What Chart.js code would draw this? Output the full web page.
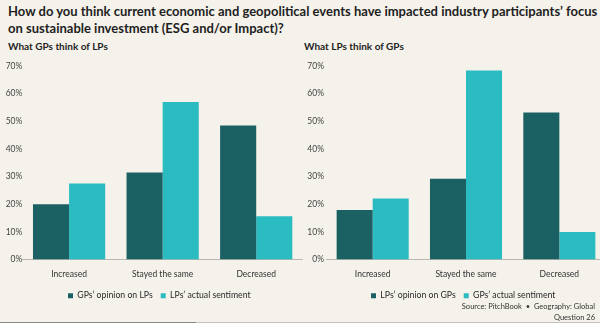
<!DOCTYPE html>
<html>
<head>
<meta charset="utf-8">
<script src="https://cdn.jsdelivr.net/npm/chart.js@4"></script>
<style>
  html, body { margin: 0; padding: 0; }
  body { width: 600px; height: 323px; overflow: hidden; background: #f5f2eb; position: relative; font-family: Lato, "Open Sans", sans-serif; color: #1e1e1e; }
  .title { position: absolute; left: 8px; top: 3px; font-weight: bold; font-size: 13px; line-height: 17px; white-space: nowrap; }
  .sub { position: absolute; top: 40px; font-weight: bold; font-size: 10px; line-height: 12px; white-space: nowrap; }
  .src { position: absolute; right: 5px; top: 302px; font-size: 7.5px; line-height: 10.5px; text-align: right; color: #333; }
  .box { position: absolute; }
  .rule { position: absolute; top: 322px; height: 1px; }
</style>
</head>
<body>
<div class="title">How do you think current economic and geopolitical events have impacted industry participants’ focus<br>on sustainable investment (ESG and/or Impact)?</div>
<div class="sub" style="left:8px">What GPs think of LPs</div>
<div class="sub" style="left:304px">What LPs think of GPs</div>

<div class="box" style="left:0; top:56px; width:303px; height:254px;"><canvas id="gpChart"></canvas></div>
<div class="box" style="left:300px; top:56px; width:306px; height:254px;"><canvas id="lpChart"></canvas></div>

<div class="src">Source: PitchBook &nbsp;•&nbsp; Geography: Global<br>Question 26</div>
<div class="rule" style="left:0; width:196px; background:#8a8a86;"></div>
<div class="rule" style="left:196px; width:404px; background:#c4c2bc;"></div>

<script>
// ===== Data =====
const categories = ['Increased', 'Stayed the same', 'Decreased'];
const yTicks = [0, 10, 20, 30, 40, 50, 60, 70];

// What GPs think of LPs
const gpOpinionOnLPs = [20, 31.5, 48.5];
const lpActualSentiment = [27.5, 57, 15.7];

// What LPs think of GPs
const lpOpinionOnGPs = [17.9, 29.2, 53.2];
const gpActualSentiment = [22.1, 68.4, 10];

const DARK = '#1b6164';
const LIGHT = '#2bbcc2';
const FONT = 'Lato, "Open Sans", sans-serif';

function makeChart(id, names, darkData, lightData, yWidth, legendLeft) {
  const ctx = document.getElementById(id).getContext('2d');
  return new Chart(ctx, {
    type: 'bar',
    data: {
      labels: categories,
      datasets: [
        { label: names[0], data: darkData, backgroundColor: DARK, borderWidth: 0,
          categoryPercentage: 0.772, barPercentage: 1 },
        { label: names[1], data: lightData, backgroundColor: LIGHT, borderWidth: 0,
          categoryPercentage: 0.772, barPercentage: 1 }
      ]
    },
    options: {
      responsive: true,
      maintainAspectRatio: false,
      animation: false,
      layout: { padding: { top: 10, right: 0, bottom: 0, left: 0 } },
      plugins: {
        tooltip: { enabled: false },
        legend: {
          position: 'bottom',
          align: 'start',
          labels: { boxWidth: 5, boxHeight: 5, padding: 8, color: '#2a2a2a',
                    font: { family: FONT, size: 8.7 } }
        }
      },
      scales: {
        x: {
          grid: { display: false, drawTicks: false },
          border: { display: true, color: '#b9b7b1', width: 1 },
          ticks: { color: '#333', padding: 10, font: { family: FONT, size: 8.5 } },
          afterFit: s => { s.height = 23.7; }
        },
        y: {
          min: 0, max: 70,
          afterBuildTicks: s => { s.ticks = yTicks.map(v => ({ value: v })); },
          grid: { display: false, drawTicks: false },
          border: { display: false },
          ticks: { color: '#444', padding: yWidth > 24 ? 2 : 0, callback: v => v + '%',
                   font: { family: FONT, size: 8.5 } },
          afterFit: s => { s.width = yWidth; }
        }
      }
    },
    plugins: [{
      id: 'legendShift',
      afterLayout(chart) { chart.legend.left = legendLeft; }
    }]
  });
}

const gpChart = makeChart('gpChart', ['GPs’ opinion on LPs', 'LPs’ actual sentiment'],
  gpOpinionOnLPs, lpActualSentiment, 22.3, 60);
const lpChart = makeChart('lpChart', ['LPs’ opinion on GPs', 'GPs’ actual sentiment'],
  lpOpinionOnGPs, gpActualSentiment, 26, 63);
</script>
</body>
</html>
